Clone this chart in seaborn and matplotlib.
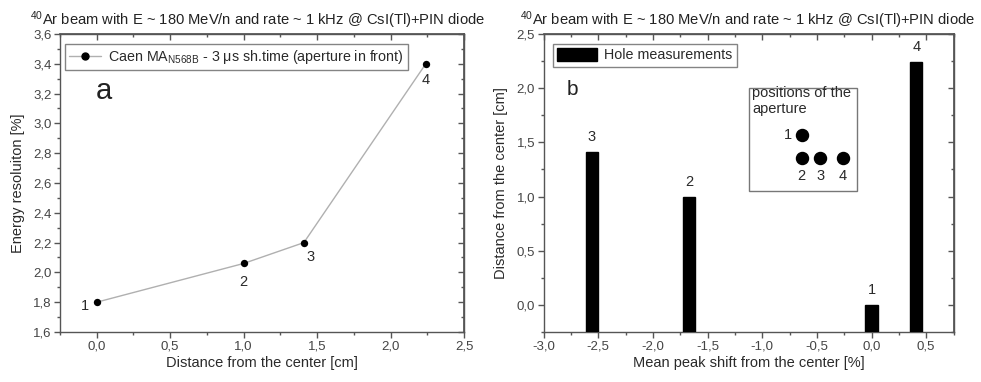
import numpy as np
import pandas as pd
import seaborn as sns
import matplotlib
matplotlib.use("Agg")
import matplotlib.pyplot as plt
from matplotlib.ticker import MultipleLocator, FuncFormatter
from matplotlib.lines import Line2D
from matplotlib.patches import Rectangle

# Panel a: energy resolution vs. aperture distance
distance_cm = [0.0, 1.0, 1.41, 2.24]
resolution_pct = [1.80, 2.06, 2.20, 3.40]
point_labels = ["1", "2", "3", "4"]

# Panel b: mean peak shift per aperture position
peak_shift_pct = [0.0, -1.67, -2.56, 0.41]
hole_distance_cm = [0.0, 1.0, 1.41, 2.24]
hole_labels = ["1", "2", "3", "4"]

TITLE = r"$^{40}$Ar beam with E ~ 180 MeV/n and rate ~ 1 kHz @ CsI(Tl)+PIN diode"

sns.set_theme(style="ticks")
plt.rcParams["font.family"] = ["Liberation Sans", "DejaVu Sans"]
plt.rcParams["mathtext.fontset"] = "custom"
plt.rcParams["mathtext.rm"] = "Liberation Sans"
plt.rcParams["mathtext.it"] = "Liberation Sans"
plt.rcParams["mathtext.bf"] = "Liberation Sans"

TXT = "#2a2a2a"
TICK = "#444444"
SPINE = "#555555"

comma = FuncFormatter(lambda v, p: f"{v:.1f}".replace(".", ",").replace("\u2212", "-"))

fig = plt.figure(figsize=(9.81, 3.82), dpi=100)
ax_a = fig.add_axes([60 / 981, 50 / 382, 404 / 981, 298 / 382])
ax_b = fig.add_axes([543.5 / 981, 50 / 382, 410 / 981, 298 / 382])


def style_axes(ax, xmaj, xmin, ymaj, ymin):
    for s in ax.spines.values():
        s.set_color(SPINE)
        s.set_linewidth(1.0)
    ax.xaxis.set_major_locator(MultipleLocator(xmaj))
    ax.xaxis.set_minor_locator(MultipleLocator(xmin))
    ax.yaxis.set_major_locator(MultipleLocator(ymaj))
    ax.yaxis.set_minor_locator(MultipleLocator(ymin))
    ax.xaxis.set_major_formatter(comma)
    ax.yaxis.set_major_formatter(comma)
    ax.tick_params(which="major", direction="out", length=4, width=1,
                   color=SPINE, labelsize=9.5, labelcolor=TICK, pad=2)
    ax.tick_params(which="minor", direction="out", length=2.5, width=1, color=SPINE)
    # mirrored ticks on top and right, pointing inward
    top = ax.secondary_xaxis("top")
    top.xaxis.set_major_locator(MultipleLocator(xmaj))
    top.xaxis.set_minor_locator(MultipleLocator(xmin))
    top.tick_params(which="major", direction="in", length=4, width=1, color=SPINE,
                    labeltop=False)
    top.tick_params(which="minor", direction="in", length=2.5, width=1, color=SPINE)
    top.spines["top"].set_color(SPINE)
    right = ax.secondary_yaxis("right")
    right.yaxis.set_major_locator(MultipleLocator(ymaj))
    right.yaxis.set_minor_locator(MultipleLocator(ymin))
    right.tick_params(which="major", direction="in", length=4, width=1, color=SPINE,
                      labelright=False)
    right.tick_params(which="minor", direction="in", length=2.5, width=1, color=SPINE)
    right.spines["right"].set_color(SPINE)


# ---- panel a ----
df_a = pd.DataFrame({"d": distance_cm, "r": resolution_pct})
sns.lineplot(data=df_a, x="d", y="r", ax=ax_a, color="#b0b0b0", linewidth=1.0,
             sort=False, zorder=2)
sns.scatterplot(data=df_a, x="d", y="r", ax=ax_a, color="black", s=28,
                edgecolor="black", linewidth=0, zorder=3)
ax_a.set_xlim(-0.25, 2.5)
ax_a.set_ylim(1.6, 3.6)
style_axes(ax_a, 0.5, 0.25, 0.2, 0.1)
ax_a.set_xlabel("Distance from the center [cm]", fontsize=10.5, color=TXT, labelpad=3)
ax_a.set_ylabel("Energy resoluiton [%]", fontsize=10.5, color=TXT, labelpad=6)

offsets_a = [(-12, -4), (0, -19), (7, -14), (0, -16)]
for x, y, lab, (dx, dy) in zip(distance_cm, resolution_pct, point_labels, offsets_a):
    ax_a.annotate(lab, (x, y), xytext=(dx, dy), textcoords="offset pixels",
                  ha="center", va="center", fontsize=10.5, color=TXT)

h_a = Line2D([], [], color="#b0b0b0", lw=1.0, marker="o", markersize=5,
             markerfacecolor="black", markeredgecolor="black")
leg_a = ax_a.legend([h_a], [r"Caen MA$_{\mathregular{N568B}}$ - 3 μs sh.time (aperture in front)"],
                    loc="upper left", bbox_to_anchor=(0.012, 0.967), fontsize=10.3,
                    frameon=True, fancybox=False, edgecolor="#666666",
                    handlelength=2.2, handletextpad=0.5, borderpad=0.3,
                    borderaxespad=0)
leg_a.get_frame().set_linewidth(1.0)
for t in leg_a.get_texts():
    t.set_color(TXT)
ax_a.text(0.108, 0.81, "a", transform=ax_a.transAxes, fontsize=21,
          color="#222222", ha="center", va="center")

# ---- panel b ----
y_floor = -0.25
bar_w = 0.11
df_b = pd.DataFrame({"s": peak_shift_pct, "h": hole_distance_cm})
sns.barplot(data=df_b, x="s", y="h", ax=ax_b, native_scale=True, color="black",
            saturation=1, errorbar=None, zorder=3)
# bars rise from the bottom of the axis, as in the original plotting program
for p in ax_b.patches:
    cx = p.get_x() + p.get_width() / 2
    val = p.get_height()
    p.set_x(cx - bar_w / 2)
    p.set_width(bar_w)
    p.set_y(y_floor)
    p.set_height(val - y_floor)
    p.set_edgecolor("black")
    p.set_facecolor("black")

ax_b.set_xlim(-3.0, 0.75)
ax_b.set_ylim(y_floor, 2.5)
style_axes(ax_b, 0.5, 0.25, 0.5, 0.25)
ax_b.set_xlabel("Mean peak shift from the center [%]", fontsize=10.5, color=TXT, labelpad=3)
ax_b.set_ylabel("Distance from the center [cm]", fontsize=10.5, color=TXT, labelpad=6)

for x, y, lab in zip(peak_shift_pct, hole_distance_cm, hole_labels):
    ax_b.annotate(lab, (x, y), xytext=(0, 15), textcoords="offset pixels",
                  ha="center", va="center", fontsize=10.5, color=TXT)

h_b = Rectangle((0, 0), 1, 1, facecolor="black", edgecolor="black")
leg_b = ax_b.legend([h_b], ["Hole measurements"], loc="upper left",
                    bbox_to_anchor=(0.022, 0.967), fontsize=10.3, frameon=True,
                    fancybox=False, edgecolor="#666666", handlelength=2.8,
                    handleheight=1.0, handletextpad=0.5, borderpad=0.3,
                    borderaxespad=0)
leg_b.get_frame().set_linewidth(1.0)
for t in leg_b.get_texts():
    t.set_color(TXT)
ax_b.text(0.07, 0.815, "b", transform=ax_b.transAxes, fontsize=15,
          color="#222222", ha="center", va="center")

# inset sketch of the aperture positions
ax_b.add_patch(Rectangle((0.501, 0.473), 0.264, 0.346, transform=ax_b.transAxes,
                         facecolor="white", edgecolor="#777777", linewidth=1.0,
                         zorder=4))
ax_b.text(0.509, 0.775, "positions of the\naperture", transform=ax_b.transAxes,
          fontsize=10.5, color=TXT, ha="left", va="center", linespacing=1.25, zorder=5)
dot_x = [0.630, 0.630, 0.675, 0.730]
dot_y = [0.661, 0.585, 0.585, 0.585]
ax_b.scatter(dot_x, dot_y, s=75, color="black", transform=ax_b.transAxes,
             zorder=5, clip_on=False)
ax_b.text(0.597, 0.661, "1", transform=ax_b.transAxes, fontsize=10.5, color=TXT,
          ha="center", va="center", zorder=5)
for xx, lab in zip(dot_x[1:], hole_labels[1:]):
    ax_b.text(xx, 0.523, lab, transform=ax_b.transAxes, fontsize=10.5, color=TXT,
              ha="center", va="center", zorder=5)

fig.text(30 / 981, 1 - 20 / 382, TITLE, fontsize=10.6, color="#222222",
         ha="left", va="center")
fig.text(520 / 981, 1 - 20 / 382, TITLE, fontsize=10.6, color="#222222",
         ha="left", va="center")

fig.savefig("out.png", dpi=100)
